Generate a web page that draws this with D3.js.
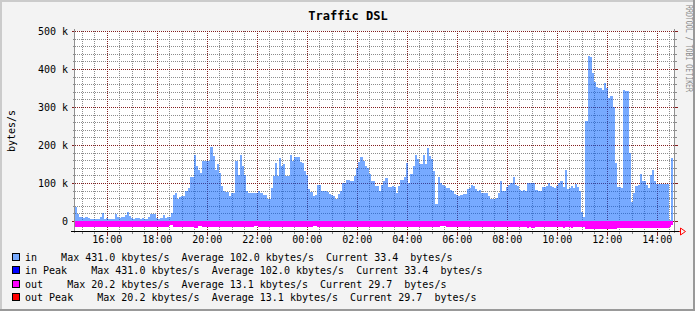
<html>
<head>
<script src="https://d3js.org/d3.v7.min.js"></script>
<style>
  body { margin: 0; background: #f3f3f3; }
  text { font-family: "DejaVu Sans Mono", monospace; }
</style>
</head>
<body>
<svg id="chart" width="695" height="311"></svg>
<script>
// incoming traffic, kbytes/s, one value per 5 minutes starting 14:42:30
const inValues = [
  38, 19, 10, 10, 8, 10, 8, 6, 6, 6,
  5, 5, 10, 20, 4, 8, 6, 5, 6, 19,
  10, 8, 11, 11, 15, 24, 13, 8, 6, 8,
  8, 5, 8, 6, 6, 11, 19, 19, 19, 8,
  6, 8, 17, 8, 10, 10, 22, 69, 73, 57,
  62, 65, 67, 80, 87, 115, 115, 174, 144, 134,
  127, 158, 158, 158, 158, 194, 171, 135, 151, 127,
  91, 80, 76, 76, 65, 73, 73, 158, 122, 173,
  144, 122, 78, 75, 75, 73, 73, 75, 80, 75,
  69, 69, 58, 58, 87, 118, 153, 118, 166, 144,
  149, 119, 119, 173, 158, 169, 169, 169, 155, 153,
  131, 122, 84, 76, 65, 69, 94, 94, 78, 78,
  80, 77, 72, 68, 65, 59, 72, 78, 100, 100,
  109, 109, 104, 104, 118, 140, 155, 169, 158, 146,
  140, 125, 104, 104, 93, 93, 78, 96, 104, 112,
  89, 89, 93, 89, 75, 91, 109, 109, 115, 153,
  100, 125, 146, 173, 162, 149, 149, 173, 149, 193,
  171, 164, 131, 45, 115, 100, 96, 91, 86, 86,
  82, 78, 72, 69, 65, 69, 72, 72, 85, 87,
  96, 91, 85, 78, 82, 73, 73, 73, 66, 58,
  58, 58, 60, 75, 104, 80, 78, 89, 96, 100,
  115, 96, 93, 82, 78, 82, 78, 100, 100, 100,
  100, 82, 80, 78, 89, 89, 93, 100, 93, 89,
  87, 91, 100, 104, 89, 134, 84, 87, 93, 87,
  98, 90, 80, 25, 11, 263, 434, 431, 390, 365,
  352, 349, 349, 344, 363, 349, 325, 330, 300, 153,
  89, 89, 88, 345, 343, 343, 180, 51, 73, 91,
  96, 125, 104, 104, 96, 87, 122, 133, 104, 98,
  98, 98, 98, 98, 98, 2, 166
];
// outgoing traffic, kbytes/s, drawn below zero
const outValues = [
  15, 15, 16, 16, 15, 15, 16, 16, 15, 15, 16, 16, 15, 15, 16, 16, 15, 15, 16, 16,
  15, 15, 16, 16, 15, 15, 16, 16, 15, 15, 16, 16, 15, 15, 16, 16, 15, 15, 16, 16,
  15, 15, 16, 16, 15, 11, 11, 16, 16, 15, 15, 16, 16, 15, 15, 16, 16, 18, 18, 14,
  14, 16, 16, 16, 16, 16, 16, 16, 16, 16, 16, 16, 16, 16, 16, 16, 16, 16, 16, 16,
  16, 16, 16, 16, 16, 16, 14, 14, 16, 16, 16, 16, 16, 16, 16, 16, 16, 16, 16, 16,
  16, 16, 16, 16, 16, 16, 16, 16, 16, 16, 16, 16, 16, 16, 14, 14, 16, 16, 16, 16,
  16, 16, 16, 16, 16, 16, 16, 16, 16, 16, 16, 16, 16, 16, 16, 16, 16, 16, 16, 16,
  16, 17, 17, 17, 17, 17, 17, 17, 17, 17, 17, 17, 17, 17, 17, 17, 17, 17, 17, 17,
  17, 17, 17, 17, 17, 17, 17, 17, 17, 17, 17, 17, 17, 17, 17, 14, 14, 14, 17, 17,
  16, 16, 16, 16, 16, 16, 16, 16, 16, 16, 16, 16, 16, 16, 16, 16, 16, 16, 16, 16,
  16, 16, 16, 16, 16, 16, 16, 16, 16, 16, 16, 16, 16, 16, 16, 16, 16, 18, 16, 18,
  18, 16, 16, 16, 16, 16, 16, 16, 16, 16, 16, 16, 16, 16, 18, 16, 16, 16, 18, 16,
  16, 16, 16, 16, 16, 20, 20, 20, 20, 20, 20, 20, 20, 20, 20, 20, 20, 20, 20, 20,
  19, 19, 19, 19, 19, 19, 18, 18, 18, 18, 18, 18, 18, 18, 18, 18, 18, 18, 18, 18,
  18, 18, 18, 18, 18, 17, 10
];
const startTime = new Date(2024, 0, 1, 14, 42, 30);
const endTime = new Date(2024, 0, 2, 14, 42, 30);
const stepMinutes = 5;

const yMajorTicks = [0, 100000, 200000, 300000, 400000, 500000];
const yTickLabels = ["0", "100 k", "200 k", "300 k", "400 k", "500 k"];

const legendLabels = ["in", "in Peak", "out", "out Peak"];
const legendColors = ["#77aaff", "#0000ff", "#ff00ff", "#ff0000"];
const legendStats = [
  "Max 431.0 kbytes/s  Average 102.0 kbytes/s  Current 33.4  bytes/s",
  "Max 431.0 kbytes/s  Average 102.0 kbytes/s  Current 33.4  bytes/s",
  "Max 20.2 kbytes/s  Average 13.1 kbytes/s  Current 29.7  bytes/s",
  "Max 20.2 kbytes/s  Average 13.1 kbytes/s  Current 29.7  bytes/s"
];
const legendPad = [4, 4, 4, 4];

const svg = d3.select("#chart");
const W = 695, H = 311;
const plot = { left: 75, right: 675, top: 31, bottom: 231 };

// frame
svg.append("rect").attr("width", W).attr("height", H).attr("fill", "#f3f3f3");
svg.append("rect").attr("x", 0).attr("y", 0).attr("width", W).attr("height", 2).attr("fill", "#cbcbcb");
svg.append("rect").attr("x", 0).attr("y", 0).attr("width", 2).attr("height", H).attr("fill", "#cbcbcb");
svg.append("rect").attr("x", 0).attr("y", H - 2).attr("width", W).attr("height", 2).attr("fill", "#999");
svg.append("rect").attr("x", W - 2).attr("y", 0).attr("width", 2).attr("height", H).attr("fill", "#999");

svg.append("rect")
  .attr("x", plot.left).attr("y", plot.top)
  .attr("width", plot.right - plot.left).attr("height", plot.bottom - plot.top)
  .attr("fill", "#fff");

const x = d3.scaleTime().domain([startTime, endTime]).range([plot.left, plot.right]);
const y = d3.scaleLinear().domain([-26316, 500000]).range([plot.bottom, plot.top]);
const px = v => Math.floor(x(v)) + 0.5;
const py = v => Math.round(y(v)) + 0.5;

const grid = svg.append("g").attr("shape-rendering", "crispEdges");

// minor grid
const majorX = x.ticks(d3.timeHour.every(2));
const minorX = x.ticks(d3.timeMinute.every(30)).filter(t => t.getMinutes() !== 0 || t.getHours() % 2 !== 0);
const minorY = d3.range(20000, 500000, 20000).filter(v => v % 100000 !== 0);

grid.selectAll("line.vmin").data(minorX).join("line")
  .attr("x1", px).attr("x2", px).attr("y1", plot.top).attr("y2", plot.bottom)
  .attr("stroke", "#8c8c8c").attr("stroke-dasharray", "1,1");
grid.selectAll("line.vmint").data(minorX).join("line")
  .attr("x1", px).attr("x2", px).attr("y1", plot.bottom).attr("y2", plot.bottom + 3)
  .attr("stroke", "#8c8c8c");
grid.selectAll("line.hmin").data(minorY).join("line")
  .attr("x1", plot.left).attr("x2", plot.right).attr("y1", py).attr("y2", py)
  .attr("stroke", "#8c8c8c").attr("stroke-dasharray", "1,1");
grid.selectAll("line.hminl").data(minorY).join("line")
  .attr("x1", plot.left - 2).attr("x2", plot.left).attr("y1", py).attr("y2", py)
  .attr("stroke", "#8c8c8c");
grid.selectAll("line.hminr").data(minorY).join("line")
  .attr("x1", plot.right).attr("x2", plot.right + 2).attr("y1", py).attr("y2", py)
  .attr("stroke", "#8c8c8c");

// major grid
grid.selectAll("line.vmaj").data(majorX).join("line")
  .attr("x1", px).attr("x2", px).attr("y1", plot.top).attr("y2", plot.bottom)
  .attr("stroke", "#821e1e").attr("stroke-dasharray", "1,1");
grid.selectAll("line.vmajt").data(majorX).join("line")
  .attr("x1", px).attr("x2", px).attr("y1", plot.bottom).attr("y2", plot.bottom + 5)
  .attr("stroke", "#821e1e");
grid.selectAll("line.hmaj").data(yMajorTicks).join("line")
  .attr("x1", plot.left).attr("x2", plot.right).attr("y1", py).attr("y2", py)
  .attr("stroke", "#821e1e").attr("stroke-dasharray", "1,1");
grid.selectAll("line.hmajl").data(yMajorTicks).join("line")
  .attr("x1", plot.left - 3).attr("x2", plot.left).attr("y1", py).attr("y2", py)
  .attr("stroke", "#821e1e");
grid.selectAll("line.hmajr").data(yMajorTicks).join("line")
  .attr("x1", plot.right).attr("x2", plot.right + 3).attr("y1", py).attr("y2", py)
  .attr("stroke", "#821e1e");

// data
const stepMs = stepMinutes * 60000;
const toRows = vals => {
  const rows = vals.map((v, i) => ({ t: new Date(startTime.getTime() + i * stepMs), v: v * 1000 }));
  rows.push({ t: new Date(startTime.getTime() + vals.length * stepMs), v: vals[vals.length - 1] * 1000 });
  return rows;
};

const inArea = d3.area().curve(d3.curveStepAfter)
  .x(d => x(d.t)).y0(y(0)).y1(d => y(d.v));
const outArea = d3.area().curve(d3.curveStepAfter)
  .x(d => x(d.t)).y0(y(0)).y1(d => y(-d.v));

svg.append("path").attr("d", inArea(toRows(inValues)))
  .attr("fill", "rgb(0,95,255)").attr("fill-opacity", 0.533)
  .attr("shape-rendering", "crispEdges");
svg.append("path").attr("d", outArea(toRows(outValues)))
  .attr("fill", "#ff00ff")
  .attr("shape-rendering", "crispEdges");

// axes
const axes = svg.append("g").attr("shape-rendering", "crispEdges");
axes.append("line").attr("x1", plot.left - 0.5).attr("x2", plot.left - 0.5)
  .attr("y1", plot.top - 2).attr("y2", plot.bottom + 2).attr("stroke", "#909090");
axes.append("line").attr("x1", plot.right - 0.5).attr("x2", plot.right - 0.5)
  .attr("y1", plot.top - 2).attr("y2", plot.bottom + 2).attr("stroke", "#909090");
axes.append("line").attr("x1", plot.left - 4).attr("x2", plot.right + 4)
  .attr("y1", plot.bottom + 0.5).attr("y2", plot.bottom + 0.5).attr("stroke", "#000");
axes.append("path")
  .attr("d", `M${plot.right + 4},${plot.bottom + 0.5}H${plot.right + 5.5}M${plot.right + 5.5},${plot.bottom - 3}V${plot.bottom + 4}L${plot.right + 10.5},${plot.bottom + 0.5}Z`)
  .attr("fill", "none").attr("stroke", "#ff0000").attr("shape-rendering", "auto");

// labels
svg.selectAll("text.xl").data(majorX).join("text")
  .attr("x", d => x(d)).attr("y", 243)
  .attr("text-anchor", "middle").attr("font-size", 10)
  .text(d3.timeFormat("%H:%M"));
svg.selectAll("text.yl").data(yMajorTicks).join("text")
  .attr("x", 68).attr("y", d => y(d) + 4)
  .attr("text-anchor", "end").attr("font-size", 10)
  .text((d, i) => yTickLabels[i]);

svg.append("text")
  .attr("transform", `translate(15,${(plot.top + plot.bottom) / 2}) rotate(-90)`)
  .attr("text-anchor", "middle").attr("font-size", 10)
  .text("bytes/s");

svg.append("text")
  .attr("x", 348).attr("y", 19.5)
  .attr("text-anchor", "middle").attr("font-size", 12).attr("font-weight", "bold")
  .text("Traffic DSL");

svg.append("text")
  .attr("transform", "translate(686,5) rotate(90)")
  .attr("font-size", 8).attr("fill", "#8a8a8a")
  .attr("textLength", 87).attr("lengthAdjust", "spacingAndGlyphs")
  .text("RRDTOOL / TOBI OETIKER");

// legend
const legend = svg.append("g");
legendLabels.forEach((name, i) => {
  const base = 261 + i * 13.4;
  legend.append("rect")
    .attr("x", 12.5).attr("y", Math.round(base) - 7.5)
    .attr("width", 7).attr("height", 7)
    .attr("fill", legendColors[i]).attr("stroke", "#000")
    .attr("shape-rendering", "crispEdges");
  legend.append("text")
    .attr("x", 25).attr("y", base)
    .attr("font-size", 10)
    .attr("xml:space", "preserve").style("white-space", "pre")
    .text(name + " ".repeat(legendPad[i]) + legendStats[i]);
});
</script>
</body>
</html>
